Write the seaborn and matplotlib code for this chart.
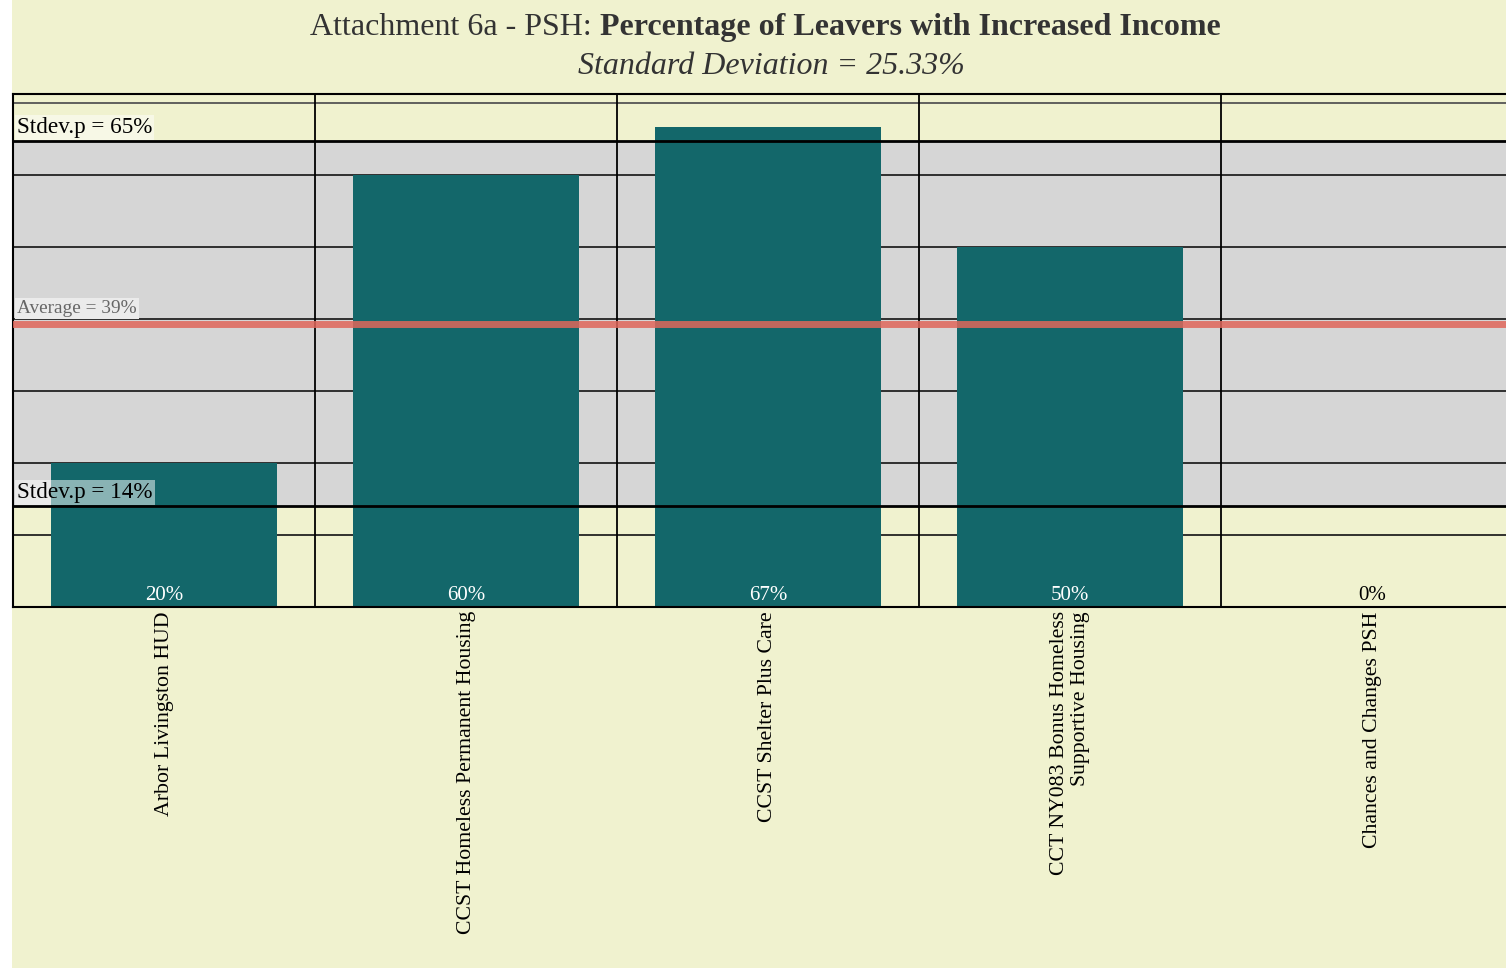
import numpy as np
import pandas as pd
import matplotlib
matplotlib.use("Agg")
import matplotlib.pyplot as plt
import seaborn as sns

# Data
projects = [
    "Arbor Livingston HUD",
    "CCST Homeless Permanent Housing",
    "CCST Shelter Plus Care",
    "CCT NY083 Bonus Homeless\nSupportive Housing",
    "Chances and Changes PSH",
]
pct_increased = [20.0, 60.0, 66.67, 50.0, 0.0]
bar_labels = ["20%", "60%", "67%", "50%", "0%"]

df = pd.DataFrame({"project": projects, "pct": pct_increased})
avg = np.mean(pct_increased)
sd = np.std(pct_increased)

# Colours
bg = "#f0f2cf"
band = "#d6d6d6"
teal = "#13676a"
red = "#e0675b"

sns.set_theme(style="white")
plt.rcParams["font.family"] = ["Liberation Serif", "DejaVu Serif"]

fig = plt.figure(figsize=(15.06, 9.71), dpi=100)
fig.patch.set_facecolor("white")
# yellow panel behind everything
fig.add_artist(plt.Rectangle((12 / 1506, 3 / 971), 1, 1, transform=fig.transFigure,
                             facecolor=bg, edgecolor="none", zorder=-10))

ax = fig.add_axes([13 / 1506, 364 / 971, 1510 / 1506, 513 / 971])
ax.set_facecolor(bg)

# std-dev band
ax.axhspan(avg - sd, avg + sd, color=band, zorder=0)

# grid lines behind bars
for g in range(10, 80, 10):
    ax.axhline(g, color="#222222" if g < 70 else "#555555", lw=1.3, zorder=1)
for xv in np.arange(0.5, 5, 1):
    ax.axvline(xv, color="black", lw=1.3, zorder=1)

sns.barplot(data=df, x="project", y="pct", color=teal, width=0.75,
            saturation=1, linewidth=0, edgecolor="none", ax=ax, zorder=2)

# average and std lines
ax.axhline(avg, color=red, lw=5, alpha=0.85, zorder=3)
ax.axhline(avg + sd, color="black", lw=2, zorder=3)
ax.axhline(avg - sd, color="black", lw=2, zorder=3)

ax.text(-0.487, avg + sd + 0.5, f"Stdev.p = {avg + sd:.0f}%", fontsize=16.7,
        va="bottom", ha="left", color="black", zorder=4,
        bbox=dict(facecolor="#f7f8e6", edgecolor="none", pad=1.5))
ax.text(-0.487, avg - sd + 0.5, f"Stdev.p = {avg - sd:.0f}%", fontsize=16.7,
        va="bottom", ha="left", color="black", zorder=4,
        bbox=dict(facecolor="white", alpha=0.5, edgecolor="none", pad=1.5))
ax.text(-0.487, avg + 0.9, f"Average = {avg:.0f}%", fontsize=13.9,
        va="bottom", ha="left", color="#666666", zorder=4,
        bbox=dict(facecolor="#ebebeb", edgecolor="none", pad=1.5))

# value labels at the bottom of the bars
for i, (v, lab) in enumerate(zip(pct_increased, bar_labels)):
    ax.text(i, 0.3, lab, ha="center", va="bottom", fontsize=15,
            color="white" if v > 0 else "black", zorder=4)

ax.set_xlim(-0.5, 4.5)
ax.set_ylim(0, 71.25)
ax.set_yticks([])
ax.set_xlabel("")
ax.set_ylabel("")
ax.tick_params(axis="x", length=0, pad=3)
ax.set_xticks(range(len(projects)))
ax.set_xticklabels(projects, rotation=90, fontsize=15.7, va="top", ha="center",
                   multialignment="right", color="black")
for s in ["left", "top", "bottom"]:
    ax.spines[s].set_color("black")
    ax.spines[s].set_linewidth(1.5)
ax.spines["right"].set_visible(False)

# title
fig.text(600 / 1506, 0.972, "Attachment 6a - PSH: ", fontsize=23, color="#333333",
         ha="right", va="center")
fig.text(600 / 1506, 0.972, "Percentage of Leavers with Increased Income", fontsize=23,
         fontweight="bold", color="#333333", ha="left", va="center")
fig.text(771 / 1506, 0.931, f"Standard Deviation = {sd:.2f}%", fontsize=23,
         style="italic", color="#333333", ha="center", va="center")

fig.savefig("out.png", dpi=100, facecolor=fig.get_facecolor())
